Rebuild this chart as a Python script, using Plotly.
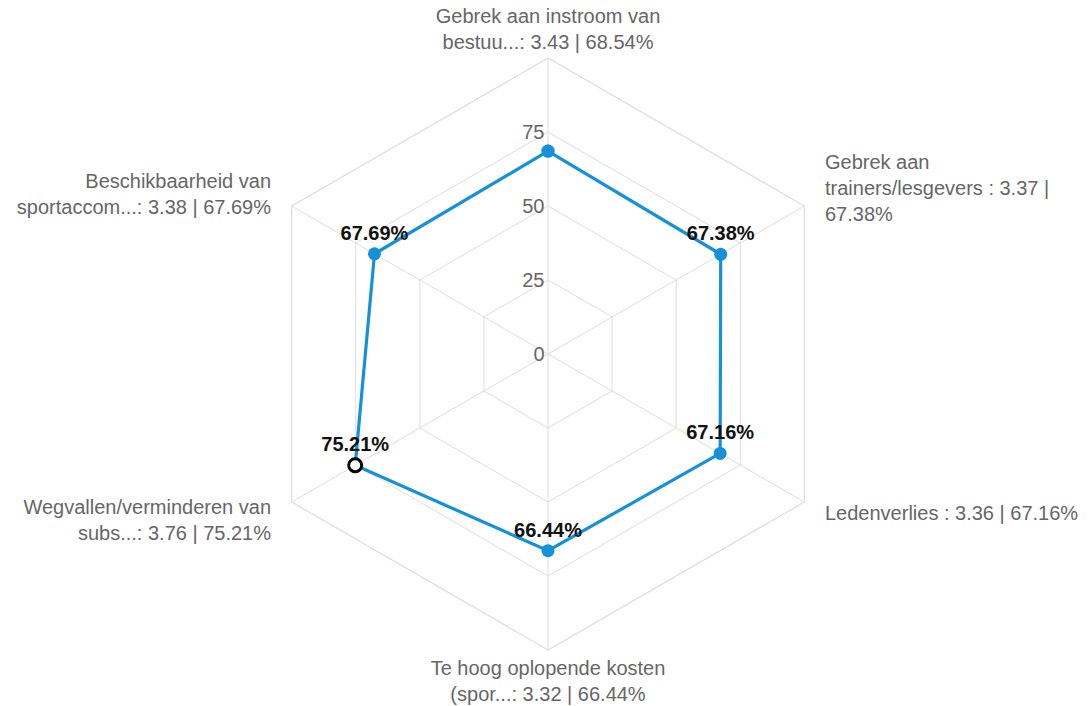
import plotly.graph_objects as go

categories = [
    "Gebrek aan instroom van<br>bestuu...",
    "Gebrek aan<br>trainers/lesgevers ",
    "Ledenverlies ",
    "Te hoog oplopende kosten<br>(spor...",
    "Wegvallen/verminderen van<br>subs...",
    "Beschikbaarheid van<br>sportaccom...",
]
scores = [3.43, 3.37, 3.36, 3.32, 3.76, 3.38]
percentages = [68.54, 67.38, 67.16, 66.44, 75.21, 67.69]
highlighted = 4      # index of the hollow (highlighted) point
hidden_label = 0     # data label not drawn in the reference (overlaps the axis labels)
radial_ticks = [0, 25, 50, 75, 100]
radial_tick_text = ["0", "25", "50", "75", ""]

BLUE = "#1591d9"
GRID = "#dddddd"
TEXT = "#666666"
FONT = "Liberation Sans, Arial, sans-serif"
PAD = "\u00a0\u00a0\u00a0"


def make_label(i, c, s, p):
    if c == "Gebrek aan<br>trainers/lesgevers ":
        lines = ["Gebrek aan", f"trainers/lesgevers : {s:.2f} |", f"{p:.2f}%"]
    else:
        lines = f"{c}: {s:.2f} | {p:.2f}%".split("<br>")
    if i in (1, 2):          # right side: pad on the left
        lines = [PAD + ln for ln in lines]
    elif i in (4, 5):        # left side: pad on the right
        lines = [ln + PAD for ln in lines]
    return "<br>".join(lines)


labels = [make_label(i, c, s, p) for i, (c, s, p) in enumerate(zip(categories, scores, percentages))]
n = len(percentages)

theta_closed = labels + [labels[0]]
r_closed = percentages + [percentages[0]]
text_closed = [("" if i == hidden_label else f"{p:.2f}%") for i, p in enumerate(percentages)] + [""]
fill_colors = [("white" if i == highlighted else BLUE) for i in range(n)]
fill_colors.append(fill_colors[0])
line_colors = [("black" if i == highlighted else BLUE) for i in range(n)]
line_colors.append(line_colors[0])
line_widths = [(3 if i == highlighted else 0) for i in range(n)]
line_widths.append(line_widths[0])

fig = go.Figure()
fig.add_trace(go.Scatterpolar(
    r=r_closed,
    theta=theta_closed,
    mode="lines+markers+text",
    line=dict(color=BLUE, width=3.2),
    marker=dict(size=13, color=fill_colors,
                line=dict(color=line_colors, width=line_widths)),
    text=text_closed,
    textposition="top center",
    textfont=dict(family=FONT, size=20, color="#111111", weight="bold"),
    cliponaxis=False,
    showlegend=False,
    hoverinfo="skip",
))

fig.update_layout(
    width=1091,
    height=706,
    paper_bgcolor="white",
    plot_bgcolor="white",
    margin=dict(l=244, r=255, t=50, b=64),
    font=dict(family=FONT, size=20, color=TEXT),
    polar=dict(
        bgcolor="white",
        gridshape="linear",
        radialaxis=dict(
            range=[0, 100],
            tickvals=radial_ticks,
            ticktext=radial_tick_text,
            showticklabels=True,
            side="counterclockwise",
            tickangle=90,
            ticks="",
            showline=False,
            gridcolor=GRID,
            gridwidth=1.2,
            angle=90,
            tickfont=dict(family=FONT, size=20, color=TEXT),
        ),
        angularaxis=dict(
            categoryorder="array",
            categoryarray=labels,
            direction="clockwise",
            rotation=90,
            ticks="",
            showline=True,
            linecolor=GRID,
            linewidth=1.2,
            gridcolor=GRID,
            gridwidth=1.2,
            tickfont=dict(family=FONT, size=20, color=TEXT),
        ),
    ),
)

fig.write_html("out.html")
